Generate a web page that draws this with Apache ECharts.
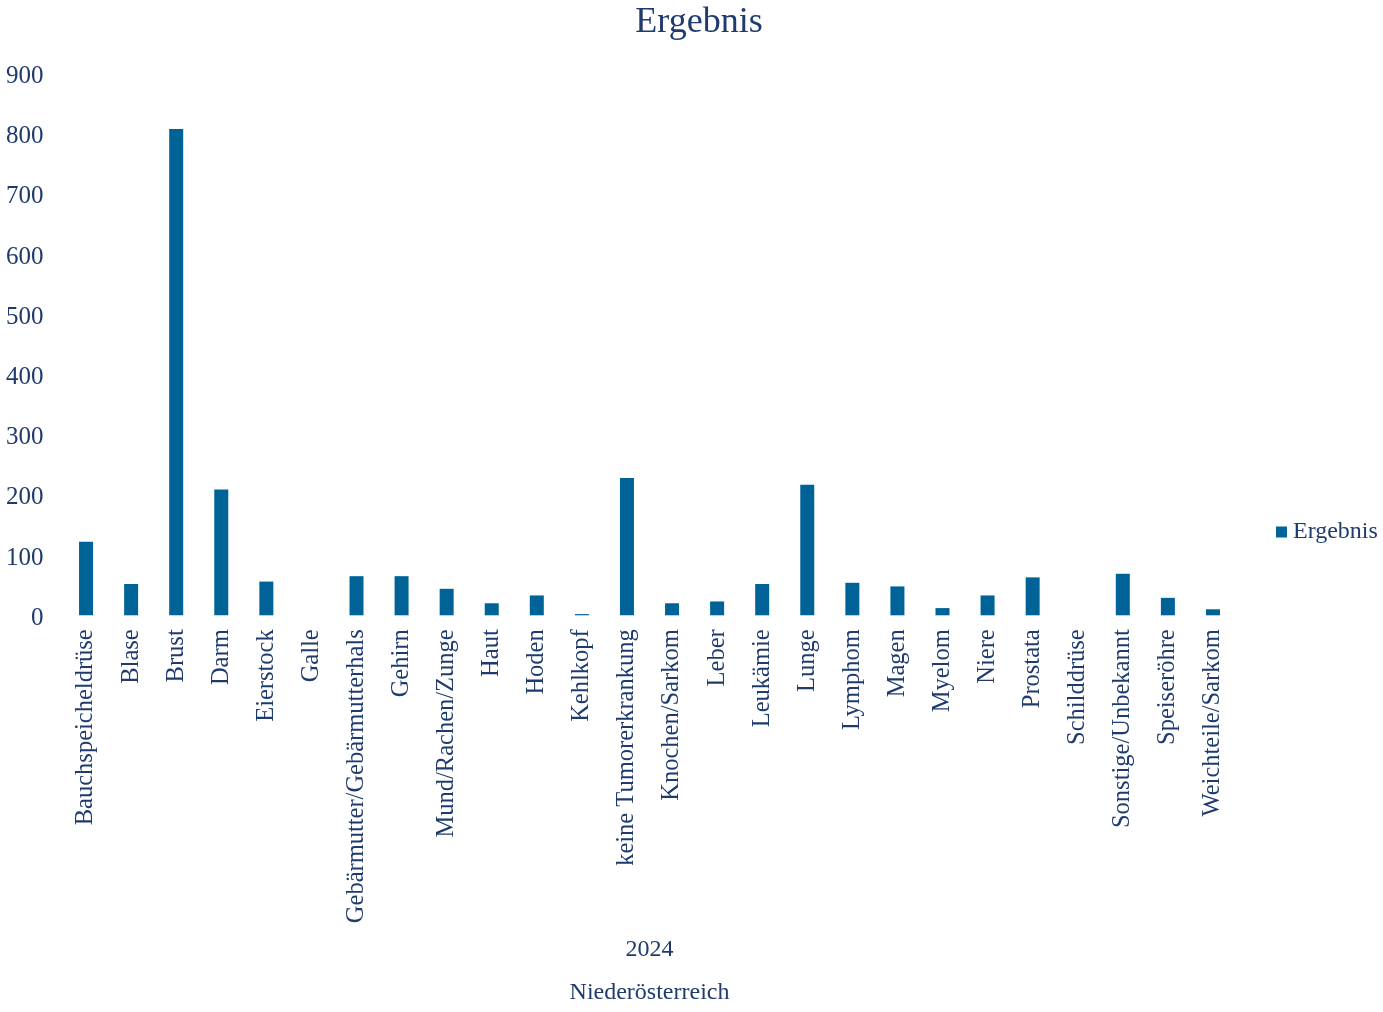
<!DOCTYPE html>
<html>
<head>
<meta charset="utf-8">
<script src="https://cdn.jsdelivr.net/npm/echarts@6/dist/echarts.min.js"></script>
<style>html,body{margin:0;padding:0;background:#fff}#c{width:1383px;height:1012px}</style>
</head>
<body>
<div id="c"></div>
<script>
const categories = ["Bauchspeicheldrüse","Blase","Brust","Darm","Eierstock","Galle","Gebärmutter/Gebärmutterhals","Gehirn","Mund/Rachen/Zunge","Haut","Hoden","Kehlkopf","keine Tumorerkrankung","Knochen/Sarkom","Leber","Leukämie","Lunge","Lymphom","Magen","Myelom","Niere","Prostata","Schilddrüse","Sonstige/Unbekannt","Speiseröhre","Weichteile/Sarkom"];
const values = [122,52,808,209,56,0,65,65,44,20,33,2,228,20,23,52,217,54,48,12,33,63,0,69,29,10];
const seriesName = "Ergebnis";
const xTitleLines = ["2024","Niederösterreich"];

const font = "'Liberation Serif', 'Times New Roman', serif";
const txt = '#1F3B6E';
const chart = echarts.init(document.getElementById('c'));
chart.setOption({
  backgroundColor: '#fff',
  animation: false,
  title: { text: 'Ergebnis', left: 694, textAlign: 'center', top: 0, textStyle: { fontFamily: font, fontSize: 36, fontWeight: 'normal', color: txt } },
  legend: { data: [seriesName], left: 1271, top: 515, icon: 'rect', itemWidth: 11, itemHeight: 11, itemGap: 6,
    textStyle: { fontFamily: font, fontSize: 24, color: txt, padding: [0,0,0,1] } },
  grid: { left: 63.5, right: 147.5, top: 73.5, bottom: 396.7, containLabel: false, outerBoundsMode: 'none' },
  xAxis: {
    type: 'category', data: categories,
    axisLine: { show: false }, axisTick: { show: false },
    axisLabel: { rotate: 90, interval: 0, margin: 14, fontFamily: font, fontSize: 24.5, color: txt },
    name: xTitleLines.join('\n'), nameLocation: 'middle', nameGap: 313, nameMoveOverlap: false,
    nameTextStyle: { fontFamily: font, fontSize: 24, color: txt, lineHeight: 43 }
  },
  yAxis: {
    type: 'value', min: 0, max: 900, interval: 100,
    axisLine: { show: false }, axisTick: { show: false }, splitLine: { show: false },
    axisLabel: { margin: 20, formatter: '{a|{value}}',
      rich: { a: { fontFamily: font, fontSize: 25, color: txt, padding: [6,0,0,0] } } }
  },
  series: [{ name: seriesName, type: 'bar', data: values, barWidth: 14, itemStyle: { color: '#006397' } }]
});
</script>
</body>
</html>
